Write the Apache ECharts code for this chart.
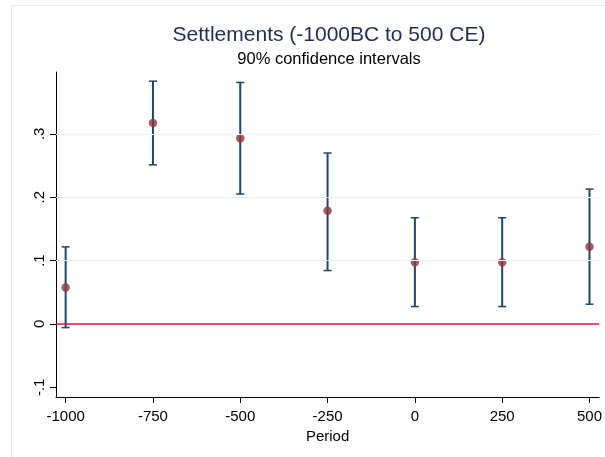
<!DOCTYPE html>
<html><head><meta charset="utf-8">
<script src="https://cdn.jsdelivr.net/npm/echarts@6/dist/echarts.min.js"></script>
<style>html,body{margin:0;padding:0;background:#fff}#c{width:605px;height:457px}</style>
</head><body><div id="c"></div>
<script>
const periods = [-1000, -750, -500, -250, 0, 250, 500];
const estimates = [0.0573, 0.317, 0.293, 0.1785, 0.0974, 0.0974, 0.1216];
const lower = [-0.0058, 0.251, 0.205, 0.0842, 0.0274, 0.0274, 0.0311];
const upper = [0.1216, 0.383, 0.381, 0.2697, 0.1675, 0.1675, 0.2128];
const xTicks = [-1000, -750, -500, -250, 0, 250, 500];
const yTicks = [-0.1, 0, 0.1, 0.2, 0.3];
const gridValues = [0.1, 0.2, 0.3];
const refValue = 0;

const FONT = 'Liberation Sans';
const chart = echarts.init(document.getElementById('c'), null, {renderer: 'canvas'});

function fmtY(v) {
  const r = Math.round(v * 10) / 10;
  if (r === 0) return '0';
  return (r < 0 ? '-' : '') + String(Math.abs(r)).replace(/^0/, '');
}
function fmtX(v) { return String(Math.round(v)); }

const ciData = periods.map((p, i) => [p, lower[i], upper[i]]);
const ptData = periods.map((p, i) => [p, estimates[i]]);

chart.setOption({
  animation: false,
  backgroundColor: '#fff',
  graphic: [{
    type: 'rect', silent: true, z: -10,
    shape: {x: 11.5, y: 5.5, width: 800, height: 800},
    style: {fill: 'none', stroke: '#e3ebee', lineWidth: 1}
  }],
  title: [
    {text: 'Settlements (-1000BC to 500 CE)', left: 329, top: 25, textAlign: 'center', padding: 0,
     textStyle: {fontSize: 21, fontWeight: 'normal', color: '#1f2d56', fontFamily: FONT}},
    {text: '90% confidence intervals', left: 329, top: 51, textAlign: 'center', padding: 0,
     textStyle: {fontSize: 16.5, fontWeight: 'normal', color: '#000', fontFamily: FONT}}
  ],
  grid: {left: 56, right: 3, top: 72, bottom: 60, containLabel: false},
  xAxis: {
    type: 'value', min: -1027.6, max: 527.6,
    name: 'Period', nameLocation: 'middle', nameGap: 32,
    nameTextStyle: {fontSize: 15, color: '#000', fontFamily: FONT},
    axisLine: {show: true, onZero: false, lineStyle: {color: '#000', width: 1}},
    axisTick: {show: true, customValues: xTicks, length: 6, lineStyle: {color: '#000', width: 1}},
    axisLabel: {customValues: xTicks, margin: 12, fontSize: 15, color: '#000', fontFamily: FONT, formatter: fmtX},
    splitLine: {show: false}
  },
  yAxis: {
    type: 'value', min: -0.1153, max: 0.3975,
    axisLine: {show: true, onZero: false, lineStyle: {color: '#000', width: 1}},
    axisTick: {show: true, customValues: yTicks, length: 6, lineStyle: {color: '#000', width: 1}},
    axisLabel: {customValues: yTicks, rotate: 90, margin: 9, fontSize: 15, color: '#000', fontFamily: FONT, formatter: fmtY},
    splitLine: {show: false}
  },
  series: [
    {
      type: 'custom', z: 2, silent: true,
      data: ciData,
      encode: {x: 0, y: [1, 2]},
      renderItem: function (params, api) {
        const x = api.value(0), lo = api.value(1), hi = api.value(2);
        const a = api.coord([x, lo]), b = api.coord([x, hi]);
        const w = 4;
        const st = {stroke: '#1a476f', lineWidth: 2};
        const cs = {stroke: '#1a476f', lineWidth: 1.5};
        return {type: 'group', children: [
          {type: 'line', shape: {x1: a[0], y1: a[1], x2: b[0], y2: b[1]}, style: st},
          {type: 'line', shape: {x1: a[0] - w, y1: a[1], x2: a[0] + w, y2: a[1]}, style: cs},
          {type: 'line', shape: {x1: b[0] - w, y1: b[1], x2: b[0] + w, y2: b[1]}, style: cs}
        ]};
      },
      markLine: {
        silent: true, symbol: 'none', animation: false,
        label: {show: false},
        data: gridValues.map(v => ({yAxis: v, lineStyle: {color: '#eaf2f3', width: 1, type: 'solid'}}))
          .concat([{yAxis: refValue, lineStyle: {color: '#d8143f', width: 1.5, type: 'solid'}}])
      }
    },
    {
      type: 'scatter', z: 3, silent: true,
      data: ptData,
      symbol: 'circle', symbolSize: 8.5,
      itemStyle: {color: '#90353b'}
    }
  ]
});
</script></body></html>
